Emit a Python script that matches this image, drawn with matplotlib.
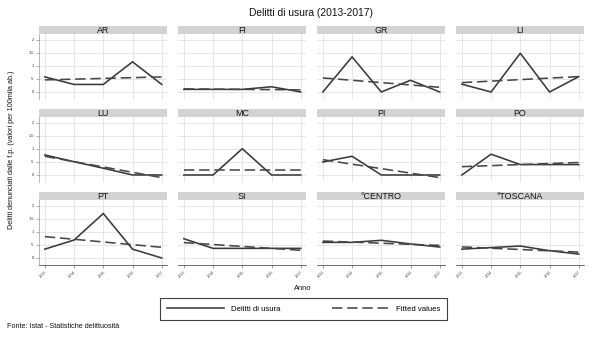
import numpy as np
import matplotlib
matplotlib.use("Agg")
import matplotlib.pyplot as plt
from matplotlib.lines import Line2D

plt.rcParams['font.family'] = ['Liberation Sans', 'DejaVu Sans']

# Delitti di usura denunciati, valori per 100mila abitanti
years = [2013, 2014, 2015, 2016, 2017]
areas = ["AR", "FI", "GR", "LI", "LU", "MC", "PI", "PO",
         "PT", "SI", "°CENTRO", "°TOSCANA"]
ar = [0.58, 0.29, 0.29, 1.16, 0.29]
fi = [0.10, 0.10, 0.10, 0.20, 0.00]
gr = [0.00, 1.35, 0.00, 0.45, 0.00]
li = [0.30, 0.00, 1.49, 0.00, 0.59]
lu = [0.77, 0.51, 0.26, 0.00, 0.00]
mc = [0.00, 0.00, 1.01, 0.00, 0.00]
pi = [0.50, 0.72, 0.00, 0.00, 0.00]
po = [0.00, 0.80, 0.40, 0.40, 0.40]
pt = [0.34, 0.69, 1.71, 0.34, 0.00]
si = [0.74, 0.37, 0.37, 0.37, 0.37]
centro = [0.60, 0.60, 0.68, 0.54, 0.42]
toscana = [0.34, 0.40, 0.46, 0.28, 0.15]
series = [ar, fi, gr, li, lu, mc, pi, po, pt, si, centro, toscana]
yticks = [0, 0.5, 1, 1.5, 2]
ytick_labels = ["0", ".5", "1", "1.5", "2"]

W, H = 593, 341
fig = plt.figure(figsize=(W / 100, H / 100), dpi=100)
fig.patch.set_facecolor("white")

col_left = [39, 178, 317, 456]
panel_w = 128
row_top = [34, 117, 200]
panel_h = 65
strip_h = 8

solid_color = "#3a3a3a"
fit_color = "#474747"
grid_color = "#e6e6e6"
line_w = 1.15

def fx(px):
    return px / W

def fy(py):
    return 1 - py / H

x = np.array(years, dtype=float)
for i, (name, vals) in enumerate(zip(areas, series)):
    r, c = divmod(i, 4)
    left, top = col_left[c], row_top[r]
    ax = fig.add_axes([fx(left), fy(top + panel_h), fx(panel_w), panel_h / H])
    ax.set_xlim(2012.8, 2017.18)
    ax.set_ylim(-0.27, 2.23)
    ax.set_xticks(years)
    ax.set_yticks(yticks)
    ax.grid(True, color=grid_color, lw=0.7)
    ax.set_axisbelow(True)
    for s in ax.spines.values():
        s.set_visible(False)

    y = np.array(vals)
    slope, icpt = np.polyfit(x, y, 1)
    ax.plot(x, y, color=solid_color, lw=line_w, solid_joinstyle="miter")
    ax.plot(x, slope * x + icpt, color=fit_color, lw=line_w,
            dashes=(6.5, 3))

    if c == 0:
        ax.spines['left'].set_visible(True)
        ax.spines['left'].set_color("#9a9a9a")
        ax.spines['left'].set_linewidth(0.5)
        ax.set_yticklabels(ytick_labels)
        ax.tick_params(axis='y', labelsize=2.9, length=2, width=0.4,
                       color="#777777", pad=1.5, labelcolor="#333333")
    else:
        ax.tick_params(axis='y', left=False, labelleft=False)

    if r == 2:
        ax.spines['bottom'].set_visible(True)
        ax.spines['bottom'].set_color("#555555")
        ax.spines['bottom'].set_linewidth(0.6)
        ax.set_xticklabels([str(v) for v in years], rotation=45,
                           ha="right", rotation_mode="anchor")
        ax.tick_params(axis='x', labelsize=2.7, length=2, width=0.4,
                       color="#555555", pad=1.5, labelcolor="#333333")
    else:
        ax.tick_params(axis='x', bottom=False, labelbottom=False)

    # strip header with the area name
    sax = fig.add_axes([fx(left), fy(top), fx(panel_w), strip_h / H])
    sax.set_facecolor("#d3d3d3")
    sax.set_xticks([])
    sax.set_yticks([])
    for s in sax.spines.values():
        s.set_visible(False)
    sax.text(0.5, 0.45, name, ha="center", va="center", fontsize=6.4,
             color="#111111", transform=sax.transAxes)

fig.text(fx(311), fy(13), "Delitti di usura (2013-2017)", ha="center",
         va="center", fontsize=7.4, color="#111111")
fig.text(fx(12), fy(150),
         "Delitti denunciati dalle f.p. (valori per 100mila ab.)",
         rotation=90, ha="center", va="center", fontsize=5.2, color="#111111")
fig.text(fx(303), fy(289), "Anno", ha="center", va="center", fontsize=5.4,
         color="#111111")
fig.text(fx(7), fy(327), "Fonte: Istat - Statistiche delittuosità",
         ha="left", va="center", fontsize=5.2, color="#111111")

handles = [Line2D([], [], color=solid_color, lw=line_w),
           Line2D([], [], color=fit_color, lw=line_w, dashes=(6.5, 3))]
leg = fig.legend(handles, ["Delitti di usura", "Fitted values"],
                 loc="center", ncol=2, mode="expand",
                 bbox_to_anchor=(fx(160), fy(320), fx(287), 22 / H),
                 fontsize=5.6, handlelength=7.3, handletextpad=0.9,
                 columnspacing=3, frameon=True, fancybox=False,
                 borderpad=0.9, borderaxespad=0)
leg.get_frame().set_edgecolor("#111111")
leg.get_frame().set_linewidth(0.8)

fig.savefig("out.png", dpi=100, facecolor="white")
